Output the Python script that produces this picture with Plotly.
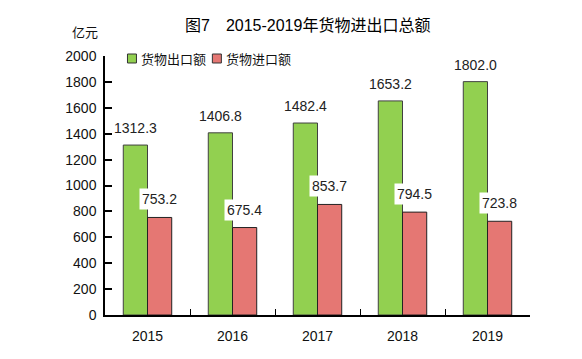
import plotly.graph_objects as go

years = ["2015", "2016", "2017", "2018", "2019"]
exports = [1312.3, 1406.8, 1482.4, 1653.2, 1802.0]
imports = [753.2, 675.4, 853.7, 794.5, 723.8]
y_ticks = [0, 200, 400, 600, 800, 1000, 1200, 1400, 1600, 1800, 2000]
series_names = ["货物出口额", "货物进口额"]
colors = ["#92D050", "#E57773"]

FONT = "Liberation Sans, Noto Sans CJK SC, sans-serif"
CJK = "Noto Sans CJK SC, sans-serif"
W, H = 582, 359
OFF = 8  # page body margin
# plot area measured in page pixels
PL, PR, PT, PB = 104.5, 530, 56, 315.5
L, T = PL - OFF, PT - OFF
R, B = W - (PR - OFF), H - (PB - OFF)
PW, PH = W - L - R, H - T - B


def px(x):
    return (x - OFF - L) / PW


def py(y):
    return (H - B - (y - OFF)) / PH


fig = go.Figure()
fig.add_trace(go.Bar(x=years, y=exports, name=series_names[0], showlegend=False,
                     marker=dict(color=colors[0], line=dict(color="#404040", width=1))))
fig.add_trace(go.Bar(x=years, y=imports, name=series_names[1], showlegend=False,
                     marker=dict(color=colors[1], line=dict(color="#222222", width=1))))

for i, yr in enumerate(years):
    fig.add_annotation(x=i, y=exports[i], xref="x", yref="y", text=f"{exports[i]:.1f}",
                       showarrow=False, xshift=-12, yanchor="bottom", yshift=7,
                       bgcolor="white", font=dict(family=FONT, size=14, color="#222222"))
    fig.add_annotation(x=i, y=imports[i], xref="x", yref="y", text=f"{imports[i]:.1f}",
                       showarrow=False, xshift=12, yanchor="bottom", yshift=7,
                       bgcolor="white", borderpad=2, font=dict(family=FONT, size=14, color="#222222"))

# title and unit
fig.add_annotation(x=px(307), y=py(25), xref="paper", yref="paper",
                   text="图7　2015-2019年货物进出口总额", showarrow=False,
                   xanchor="center", yanchor="middle",
                   font=dict(family=FONT, size=16, color="#000000"))
fig.add_annotation(x=px(84), y=py(31), xref="paper", yref="paper",
                   text="亿元", showarrow=False, xanchor="center", yanchor="middle",
                   font=dict(family=CJK, size=13, color="#111111"))

# legend (compact, like the reference)
legend_x = [127, 212]
for k in range(2):
    x0 = legend_x[k]
    fig.add_shape(type="rect", xref="paper", yref="paper",
                  x0=px(x0), x1=px(x0 + 9), y0=py(63), y1=py(54),
                  fillcolor=colors[k], line=dict(color="#333333", width=1))
    fig.add_annotation(x=px(x0 + 12), y=py(58.5), xref="paper", yref="paper",
                       text=series_names[k], showarrow=False, xanchor="left", yanchor="middle",
                       font=dict(family=CJK, size=13, color="#111111"))

fig.update_layout(
    width=W, height=H,
    margin=dict(l=L, r=R, t=T, b=B, autoexpand=False),
    paper_bgcolor="white", plot_bgcolor="white",
    barmode="group", bargap=0.43, bargroupgap=0,
    font=dict(family=FONT, size=14, color="#111111"),
    showlegend=False,
    xaxis=dict(type="category", range=[-0.5, 4.5], showline=True, linecolor="black", linewidth=1.5,
               ticks="inside", tickson="boundaries", ticklen=6, tickcolor="black", tickwidth=1,
               showgrid=False, ticklabelstandoff=7,
               tickfont=dict(family=FONT, size=14, color="#111111")),
    yaxis=dict(range=[0, 2000], tickvals=y_ticks, showline=True, linecolor="black", linewidth=1.5,
               ticks="inside", ticklen=7, tickcolor="black", tickwidth=1.5, showgrid=False,
               zeroline=False, ticklabelstandoff=4,
               tickfont=dict(family=FONT, size=14, color="#111111")),
)

fig.write_html("out.html")
